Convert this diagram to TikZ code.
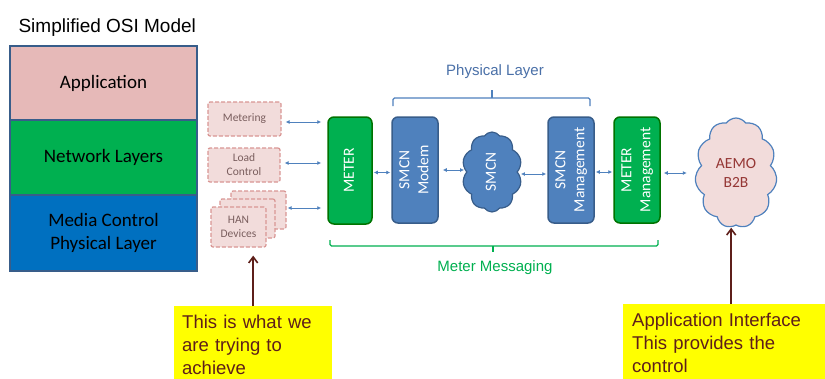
\documentclass[tikz,border=0pt]{standalone}
\usepackage{fontspec}
\usepackage{graphicx}
\setmainfont{Liberation Sans}
\newfontfamily\calibri{Carlito}
\usepackage{xcolor}
\usepackage{tikz}
\usetikzlibrary{shapes.symbols, arrows.meta, positioning, calc}
\definecolor{appPink}{HTML}{E6B9B8}
\definecolor{netGreen}{HTML}{00B050}
\definecolor{mediaBlue}{HTML}{0070C0}
\definecolor{edgeBlue}{HTML}{385D8A}
\definecolor{boxBlue}{HTML}{4F81BD}
\definecolor{tagPink}{HTML}{F2DCDB}
\definecolor{tagEdge}{HTML}{D99694}
\definecolor{tagText}{HTML}{7A5E5E}
\definecolor{aemoRed}{HTML}{953735}
\definecolor{noteRed}{HTML}{5E1F1A}
\definecolor{noteYellow}{HTML}{FFFF00}
\definecolor{braceBlue}{HTML}{4A70A8}
\newcommand{\vtext}[1]{\rotatebox{90}{\begin{tabular}{@{}c@{}}#1\end{tabular}}}
\tikzset{
    layerbox/.style={
        rectangle,
        draw=edgeBlue,
        line width=2pt,
        outer sep=0pt,
        minimum width=187pt,
        minimum height=75pt,
        align=center,
        font=\calibri\fontsize{19}{23}\selectfont,
    },
    tagbox/.style={
        rectangle,
        rounded corners=2pt,
        draw=tagEdge,
        dash pattern=on 4pt off 2pt,
        line width=1.2pt,
        fill=tagPink,
        text=tagText,
        align=center,
        minimum width=73pt,
        minimum height=34pt,
        font=\calibri\fontsize{11.5}{14}\selectfont,
    },
    unitbox/.style={
        rectangle,
        rounded corners=6pt,
        line width=1.5pt,
        minimum width=46pt,
        minimum height=106pt,
        text=white,
        font=\calibri\fontsize{15.5}{19}\selectfont,
    },
    cloudbox/.style={
        cloud,
        cloud puffs=11,
        cloud puff arc=110,
        cloud ignores aspect,
        line width=1.2pt,
        inner sep=0pt,
        align=center,
        font=\calibri\fontsize{15.5}{19}\selectfont,
    },
    link/.style={
        {Latex[length=4pt,width=4pt]}-{Latex[length=4pt,width=4pt]},
        draw=boxBlue,
        line width=0.8pt,
    },
    pointer/.style={
        -{Straight Barb[length=6pt,width=9pt]},
        draw=noteRed,
        line width=1.6pt,
    },
    bracketline/.style={
        line width=1.3pt,
        rounded corners=1.5pt,
    },
    notebox/.style={
        rectangle,
        fill=noteYellow,
        text=noteRed,
        align=left,
        anchor=north west,
        inner ysep=8.5pt,
        font=\fontsize{18.5}{23}\selectfont,
    },
}
\begin{document}
\begin{tikzpicture}[x=1pt, y=-1pt, node distance=0pt]
    \path[use as bounding box, clip] (0,0) rectangle (825,378);
    \fill[white] (0,0) rectangle (825,378);

    \node[anchor=base west, font=\fontsize{19}{23}\selectfont] (title) at (15,32) {Simplified OSI Model};

    \node[layerbox, fill=appPink, minimum height=74pt] (app) at (103.5,83) {Application};

    \node[layerbox, fill=netGreen, below=of app] (net) {Network Layers};

    \node[layerbox, fill=mediaBlue, below=of net, minimum height=76pt] (media) {Media Control\\Physical Layer};

    \node[tagbox] (met) at (244.5,119) {Metering};

    \node[tagbox, minimum width=72pt] (load) at (244,165) {Load\\Control};

    \node[tagbox, minimum width=55pt, minimum height=38pt] (hanback) at (258.5,210) {};

    \node[tagbox, minimum width=55pt, minimum height=39pt] (hanmid) at (247.5,218.5) {};

    \node[tagbox, minimum width=55pt, minimum height=40pt] (han) at (238.5,227) {HAN\\Devices};

    \node[unitbox, fill=netGreen, draw=green!45!black, minimum width=44pt, minimum height=107pt] (meter) at (350,170.5) {\vtext{METER}};

    \node[unitbox, fill=boxBlue, draw=edgeBlue] (modem) at (415,170) {\vtext{SMCN\\Modem}};

    \node[cloudbox, fill=boxBlue, draw=edgeBlue, text=white, cloud puffs=10, minimum width=60pt, minimum height=80pt] (smcn) at (492,172) {\vtext{SMCN}};

    \node[unitbox, fill=boxBlue, draw=edgeBlue] (smgmt) at (571,170) {\vtext{SMCN\\Management}};

    \node[unitbox, fill=netGreen, draw=green!45!black] (mmgmt) at (637,170) {\vtext{METER\\Management}};

    \node[cloudbox, fill=tagPink, draw=boxBlue, text=aemoRed, minimum width=82pt, minimum height=110pt] (aemo) at (736,173) {AEMO\\B2B};

    \node[text=braceBlue, font=\fontsize{15}{18}\selectfont] (phys) at (495,72) {Physical Layer};

    \node[text=netGreen, font=\fontsize{15}{18}\selectfont] (msg) at (495,268) {Meter Messaging};

    \node[notebox, text width=142pt, inner xsep=8pt] (goal) at (174,306) {This is what we\\are trying to\\achieve};

    \node[notebox, text width=184pt, inner xsep=9pt] (api) at (623,304) {Application Interface\\This provides the\\control};

    \draw[link, shorten <=4pt, shorten >=6pt] ([yshift=-3pt]met.east) -- ([yshift=-3pt]met.east -| meter.west);
    \draw[link, shorten <=4pt, shorten >=6pt] ([yshift=2pt]load.east) -- ([yshift=2pt]load.east -| meter.west);
    \draw[link, shorten <=1pt, shorten >=6pt] ([yshift=2pt]hanback.east) -- ([yshift=2pt]hanback.east -| meter.west);
    \draw[link, shorten <=1pt, shorten >=1pt] ([yshift=-2pt]meter.east) -- ([yshift=-2pt]meter.east -| modem.west);
    \draw[link, shorten <=4pt, shorten >=2pt] (modem.east) -- (modem.east -| smcn.west);
    \draw[link, shorten <=3pt, shorten >=1pt] ([yshift=-2pt]smcn.east) -- ([yshift=-2pt]smcn.east -| smgmt.west);
    \draw[link, shorten <=1pt, shorten >=1pt] ([yshift=-2pt]smgmt.east) -- ([yshift=-2pt]smgmt.east -| mmgmt.west);
    \draw[link, shorten <=3pt, shorten >=9pt] ([yshift=-3pt]mmgmt.east) -- ([yshift=-3pt]mmgmt.east -| aemo.west);

    \draw[bracketline, draw=boxBlue] (393,106) -- (393,98) -- (590,98) -- (590,106);
    \draw[bracketline, draw=boxBlue] (492,98) -- (492,90);
    \draw[bracketline, draw=netGreen] (330,240) -- (330,246) -- (658,246) -- (658,240);
    \draw[bracketline, draw=netGreen] (493,246) -- (493,252);

    \draw[pointer, shorten >=8pt] (goal.north) -- (goal.north |- han.south);
    \draw[pointer, shorten >=2pt] ([xshift=7pt]api.north) -- ([xshift=7pt]api.north |- aemo.south);
\end{tikzpicture}
\end{document}
